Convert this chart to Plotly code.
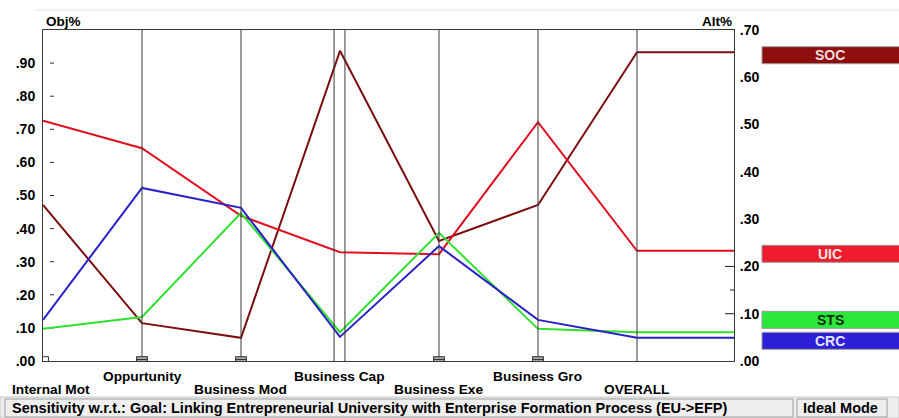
import plotly.graph_objects as go

# ---------------- data ----------------
criteria = ["Internal Mot", "Oppurtunity", "Business Mod", "Business Cap",
            "Business Exe", "Business Gro", "OVERALL"]
alternatives = ["SOC", "UIC", "STS", "CRC"]
soc = [0.330, 0.080, 0.049, 0.656, 0.254, 0.330, 0.653]
uic = [0.508, 0.450, 0.307, 0.230, 0.226, 0.505, 0.233]
sts = [0.068, 0.093, 0.313, 0.061, 0.271, 0.068, 0.061]
crc = [0.087, 0.366, 0.324, 0.051, 0.243, 0.087, 0.049]
crit_weights = [0.013, 0.013, 0.013, 0.0, 0.013, 0.013]   # criterion markers (Obj%)
obj_ticks = [0.0, 0.1, 0.2, 0.3, 0.4, 0.5, 0.6, 0.7, 0.8, 0.9]
obj_ticktext = [".00", ".10", ".20", ".30", ".40", ".50", ".60", ".70", ".80", ".90"]
alt_ticks = [0.0, 0.1, 0.2, 0.3, 0.4, 0.5, 0.6, 0.7]
alt_ticktext = [".00", ".10", ".20", ".30", ".40", ".50", ".60", ".70"]

series = [soc, uic, sts, crc]
line_colors = ["#7B0F12", "#E01020", "#30E030", "#2A20C8"]
box_colors = ["#8E0E0E", "#EE1C2C", "#2BE83A", "#2C1FD8"]
box_text_colors = ["#F4DCDC", "#FBE4E4", "#0E2A10", "#E4E4FA"]

# ---------------- geometry ----------------
W, H = 899, 418
L, R, T, B = 43, 734, 30, 361
XMAX = 6.98
FONT = "Arial"

def px(x):  # pixel -> paper x
    return (x - L) / (R - L)

def py(y):  # pixel -> paper y
    return (B - y) / (B - T)

alt_per_px = 0.7 / (B - T)

fig = go.Figure()

# alternative lines
xs = list(range(len(criteria))) + [XMAX]
for name, vals, col in zip(alternatives, series, line_colors):
    fig.add_trace(go.Scatter(
        x=xs, y=vals + [vals[-1]], mode="lines", name=name,
        line=dict(color=col, width=2), yaxis="y2", showlegend=False,
        hoverinfo="skip"))

# small dashes on the left axis
fig.add_trace(go.Scatter(
    x=[0.09] * (len(obj_ticks) - 1), y=obj_ticks[1:], mode="markers",
    marker=dict(symbol="line-ew", size=3, line=dict(width=1, color="#333")),
    showlegend=False, hoverinfo="skip"))

shapes = []
# vertical criterion lines
for i in range(1, len(criteria)):
    offs = [-0.06, 0.05] if criteria[i] == "Business Cap" else [0.0]
    for o in offs:
        shapes.append(dict(type="line", xref="x", yref="paper", x0=i + o, x1=i + o,
                           y0=0, y1=1, line=dict(color="#3a3a3a", width=1)))

# criterion markers at the bottom
for i, w in enumerate(crit_weights):
    if w <= 0:
        continue
    fill = "#FFFFFF" if i == 0 else "#A8A8A8"
    shapes.append(dict(type="rect", xref="x", yref="y", x0=i - 0.055, x1=i + 0.055,
                       y0=-0.006, y1=w, fillcolor=fill,
                       line=dict(color="#333", width=1), layer="above"))
    if i > 0:
        shapes.append(dict(type="line", xref="x", yref="y", x0=i - 0.055, x1=i + 0.055,
                           y0=w / 2 - 0.002, y1=w / 2 - 0.002,
                           line=dict(color="#333", width=1)))

# right axis inner ticks
for v, ln in [(0.1, 9), (0.15, 4), (0.2, 9)]:
    shapes.append(dict(type="line", xref="paper", yref="y2", x0=1 - ln / (R - L), x1=1,
                       y0=v, y1=v, line=dict(color="#222", width=1)))

# alternative label boxes (stacked upward to avoid overlap)
overall = [s[-1] for s in series]
order = sorted(range(len(alternatives)), key=lambda k: overall[k])
box_h = 17 * alt_per_px
step = 21 * alt_per_px
prev_top = None
tops = {}
for k in order:
    top = overall[k] + 5.5 * alt_per_px
    if prev_top is not None:
        top = max(top, prev_top + step)
    tops[k] = top
    prev_top = top

annotations = []
for k in range(len(alternatives)):
    top = tops[k]
    shapes.append(dict(type="rect", xref="paper", yref="y2", x0=px(762), x1=px(900),
                       y0=top - box_h, y1=top, fillcolor=box_colors[k],
                       line=dict(color="#9a9a9a", width=1)))
    annotations.append(dict(text=alternatives[k], xref="paper", yref="y2", x=px(830),
                            y=top - box_h / 2, showarrow=False, xanchor="center",
                            yanchor="middle",
                            font=dict(family=FONT, size=14, color=box_text_colors[k],
                                      weight="bold")))

# criterion labels (staggered)
for i, name in enumerate(criteria):
    upper = i % 2 == 1
    ann = dict(text=name, xref="x", yref="paper", x=i, y=py(376 if upper else 389),
               showarrow=False, xanchor="center", yanchor="middle",
               font=dict(family=FONT, size=13.7, color="#000", weight="bold"))
    if i == 0:
        ann.update(xanchor="left", xshift=-33)
    annotations.append(ann)

# axis titles
annotations.append(dict(text="Obj%", xref="paper", yref="paper", x=px(44), y=py(22),
                        xanchor="left", yanchor="middle", showarrow=False,
                        font=dict(family=FONT, size=13.5, color="#000", weight="bold")))
annotations.append(dict(text="Alt%", xref="paper", yref="paper", x=1, y=py(22),
                        xanchor="right", yanchor="middle", showarrow=False,
                        font=dict(family=FONT, size=13.5, color="#000", weight="bold")))

# top faint line
shapes.append(dict(type="line", xref="paper", yref="paper", x0=px(35), x1=px(899),
                   y0=py(10), y1=py(10), line=dict(color="#E6E6E6", width=1)))

# status bar
shapes.append(dict(type="rect", xref="paper", yref="paper", x0=px(0), x1=px(899),
                   y0=py(418), y1=py(397), fillcolor="#EDEDED",
                   line=dict(color="#C8C8C8", width=1), layer="below"))
shapes.append(dict(type="rect", xref="paper", yref="paper", x0=px(5), x1=px(793),
                   y0=py(417), y1=py(399), fillcolor="#EFEFEF",
                   line=dict(color="#A0A0A0", width=1)))
shapes.append(dict(type="rect", xref="paper", yref="paper", x0=px(797), x1=px(887),
                   y0=py(417), y1=py(399), fillcolor="#EFEFEF",
                   line=dict(color="#A0A0A0", width=1)))
annotations.append(dict(
    text="Sensitivity w.r.t.: Goal: Linking Entrepreneurial University with Enterprise Formation Process (EU-&gt;EFP)",
    xref="paper", yref="paper", x=px(10), y=py(408), xanchor="left", yanchor="middle",
    showarrow=False, font=dict(family=FONT, size=14.5, color="#000", weight="bold")))
annotations.append(dict(text="Ideal Mode", xref="paper", yref="paper", x=px(801),
                        y=py(408), xanchor="left", yanchor="middle", showarrow=False,
                        font=dict(family=FONT, size=14.5, color="#000", weight="bold")))

fig.update_layout(
    width=W, height=H, autosize=False,
    margin=dict(l=L, r=W - R, t=T, b=H - B, pad=0),
    paper_bgcolor="white", plot_bgcolor="white",
    xaxis=dict(range=[0, XMAX], showgrid=False, zeroline=False, showticklabels=False,
               ticks="", showline=True, mirror=True, linecolor="#3a3a3a", linewidth=1,
               fixedrange=True),
    yaxis=dict(range=[0, 1.0], tickvals=obj_ticks, ticktext=obj_ticktext,
               showgrid=False, zeroline=False, ticks="outside", ticklen=4,
               tickcolor="rgba(0,0,0,0)", showline=True, mirror=True,
               linecolor="#3a3a3a", linewidth=1,
               tickfont=dict(family=FONT, size=14, color="#000", weight="bold")),
    yaxis2=dict(range=[0, 0.7], overlaying="y", side="right", tickvals=alt_ticks,
                ticktext=alt_ticktext, showgrid=False, zeroline=False, ticks="outside",
                ticklen=2, tickcolor="rgba(0,0,0,0)", showline=False,
                tickfont=dict(family=FONT, size=14, color="#000", weight="bold")),
    shapes=shapes, annotations=annotations, showlegend=False,
)

fig.write_html("out.html", config={"displayModeBar": False},
               post_script="document.body.style.margin='0';document.body.style.padding='0';document.body.style.overflow='hidden';")
